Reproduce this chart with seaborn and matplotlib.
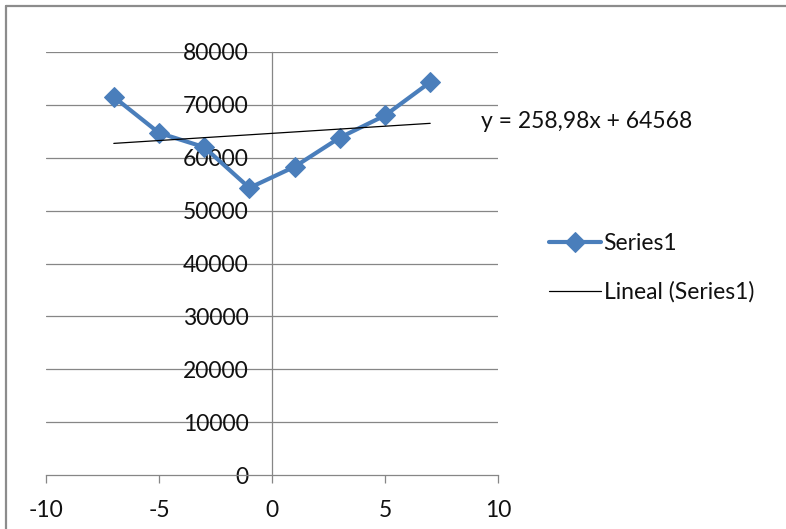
import numpy as np
import pandas as pd
import matplotlib
matplotlib.use('Agg')
import matplotlib.pyplot as plt
import seaborn as sns
from matplotlib.lines import Line2D

# Values
x_vals = [-7, -5, -3, -1, 1, 3, 5, 7]
y_vals = [71500, 64700, 62000, 54300, 58300, 63800, 68000, 74300]
y_ticks = [0, 10000, 20000, 30000, 40000, 50000, 60000, 70000, 80000]
x_ticks = [-10, -5, 0, 5, 10]
equation = 'y = 258,98x + 64568'

sns.set_theme(style='white')
plt.rcParams['font.family'] = ['Lato', 'DejaVu Sans']

df = pd.DataFrame({'x': x_vals, 'y': y_vals})

W, H = 786, 529
fig = plt.figure(figsize=(W / 100, H / 100), dpi=100)
ax = fig.add_axes([46 / W, 1 - 475 / H, (498 - 46) / W, (475 - 52) / H])

grid_col = '#868686'
blue = '#4a7ebb'
txt_col = '#111111'
fs = 16.5

# horizontal gridlines
for yt in y_ticks[1:]:
    ax.axhline(yt, color=grid_col, lw=0.9, zorder=0)

sns.lineplot(data=df, x='x', y='y', ax=ax, color=blue, lw=3, marker='D',
             markersize=10, markeredgecolor=blue, label='Series1', zorder=3)
sns.regplot(data=df, x='x', y='y', ax=ax, scatter=False, ci=None,
            color='black', label='Lineal (Series1)',
            line_kws={'lw': 0.9, 'zorder': 4})

ax.set_xlim(-10, 10)
ax.set_ylim(0, 80000)
ax.set_xticks(x_ticks)
ax.set_yticks(y_ticks)
ax.set_xticklabels([str(t) for t in x_ticks])
ax.set_yticklabels([str(t) for t in y_ticks])
ax.set_xlabel('')
ax.set_ylabel('')

for side in ['top', 'right']:
    ax.spines[side].set_visible(False)
ax.spines['left'].set_position(('data', 0))
for side in ['left', 'bottom']:
    ax.spines[side].set_color(grid_col)
    ax.spines[side].set_linewidth(0.9)

ax.tick_params(axis='y', left=False, pad=11, labelsize=fs, labelcolor=txt_col)
ax.tick_params(axis='x', bottom=True, direction='out', length=6, width=0.9,
               color=grid_col, pad=12, labelsize=fs, labelcolor=txt_col)

ax.text(9.25, 66900, equation, fontsize=fs, color=txt_col,
        ha='left', va='center', clip_on=False)

leg = ax.legend(loc='center left', bbox_to_anchor=(528 / W, 1 - 268 / H),
                bbox_transform=fig.transFigure, frameon=False, fontsize=fs,
                handlelength=2.3, handletextpad=0.1, labelspacing=1.2)
for t in leg.get_texts():
    t.set_color(txt_col)

# outer chart-area border (left and top edges visible)
bc = '#8c8c8c'
fig.add_artist(Line2D([6 / W, 6 / W], [0, 1 - 6 / H], color=bc, lw=1.6,
                      transform=fig.transFigure))
fig.add_artist(Line2D([6 / W, 1], [1 - 6 / H, 1 - 6 / H], color=bc, lw=1.6,
                      transform=fig.transFigure))

fig.savefig('out.png', dpi=100)
